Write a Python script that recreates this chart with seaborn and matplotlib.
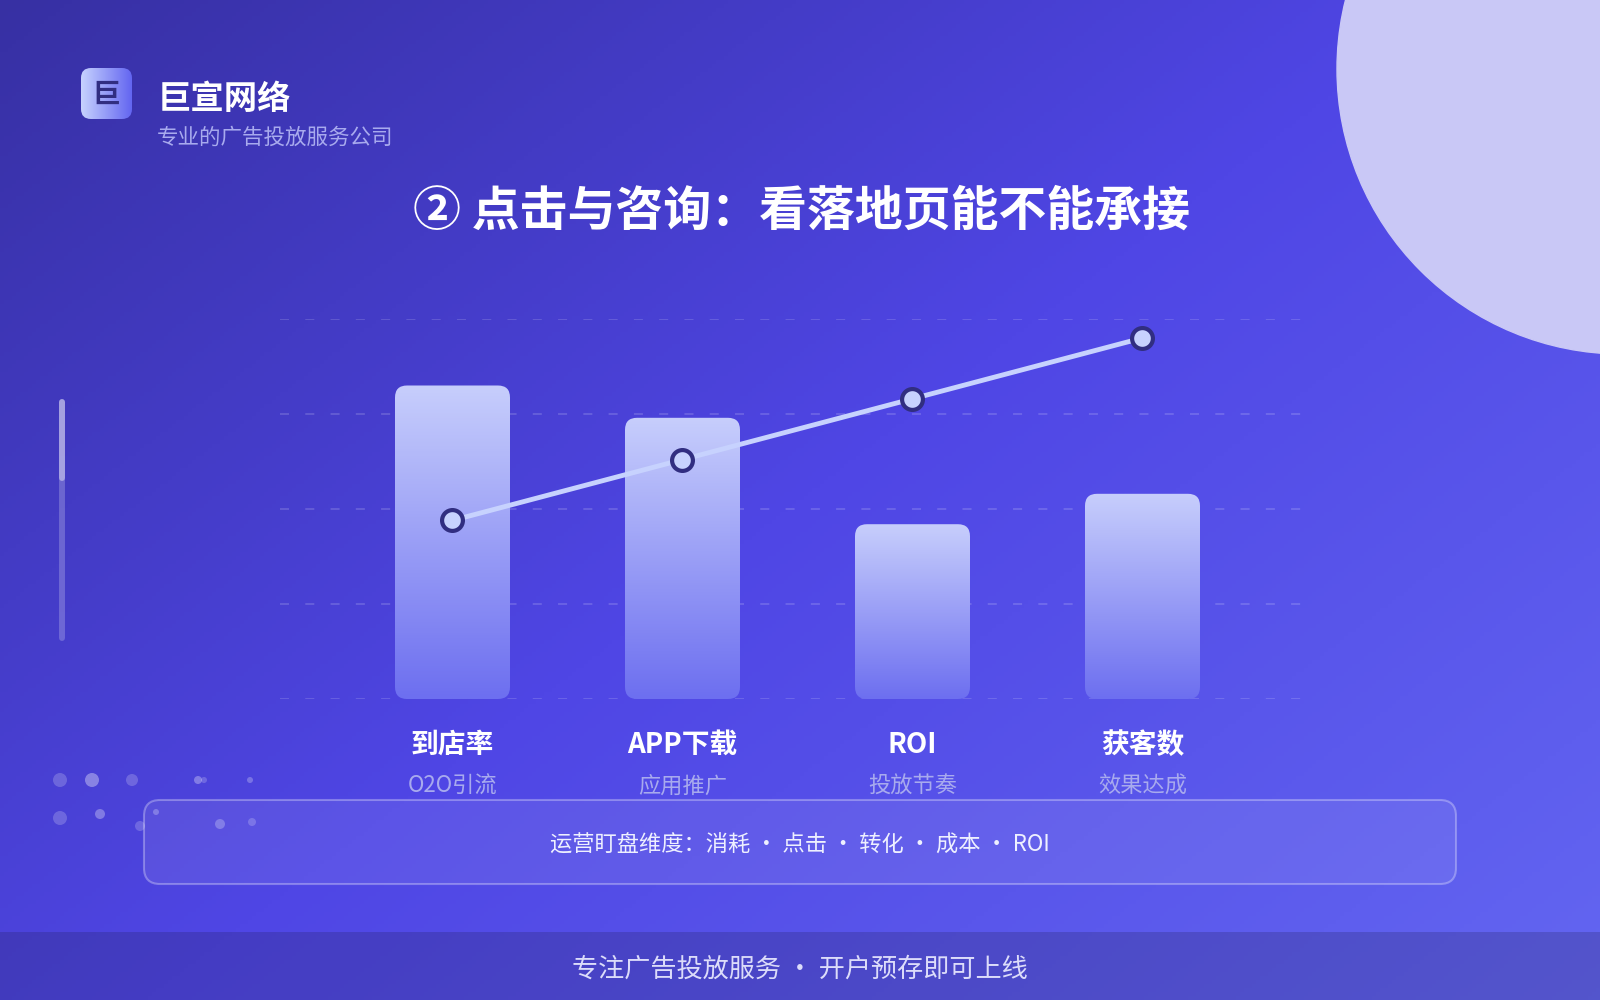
import numpy as np
import matplotlib
matplotlib.use("Agg")
import matplotlib.pyplot as plt
import seaborn as sns
from matplotlib.colors import LinearSegmentedColormap
from matplotlib.patches import FancyBboxPatch, Circle, Rectangle
from matplotlib.transforms import blended_transform_factory

# ---- data ----
categories = ["到店率", "APP下载", "ROI", "获客数"]
sub_labels = ["O2O引流", "应用推广", "投放节奏", "效果达成"]
bar_values = [82.5, 74, 46, 54]
line_values = [47, 63, 79, 95]
grid_ticks = [0, 25, 50, 75, 100]

brand = "巨宣网络"
brand_sub = "专业的广告投放服务公司"
title = "② 点击与咨询：看落地页能不能承接"
box_text = "运营盯盘维度：消耗 ・ 点击 ・ 转化 ・ 成本 ・ ROI"
footer_text = "专注广告投放服务 • 开户预存即可上线"

sns.set_style("white")
plt.rcParams["font.family"] = ["Noto Sans CJK SC", "DejaVu Sans"]

W, H = 1600, 1000
fig = plt.figure(figsize=(16, 10), dpi=100)

# ---- background layer in pixel coordinates ----
bg = fig.add_axes([0, 0, 1, 1], zorder=0)
bg.set_xlim(0, W)
bg.set_ylim(H, 0)
bg.axis("off")

bg_cmap = LinearSegmentedColormap.from_list("bg", ["#3730a3", "#4f46e5", "#6366f1"])
xx, yy = np.meshgrid(np.linspace(0, 1, 400), np.linspace(0, 1, 250))
bg.imshow((xx * 0.55 + yy * 0.45), cmap=bg_cmap, extent=[0, W, H, 0], aspect="auto", zorder=0)

bg.add_patch(Circle((1622, 69), 285, color="#c9c8f6", zorder=1))

# logo
logo = FancyBboxPatch((81, 68), 51, 51, boxstyle="round,pad=0,rounding_size=10",
                      facecolor="none", edgecolor="none", zorder=2)
bg.add_patch(logo)
logo_cmap = LinearSegmentedColormap.from_list("logo", ["#c7d2fe", "#6366f1"])
im = bg.imshow(np.linspace(0, 1, 100)[None, :], cmap=logo_cmap,
               extent=[81, 132, 119, 68], aspect="auto", zorder=2)
im.set_clip_path(logo)
bg.text(106, 95, "巨", fontsize=20, fontweight="bold", color="#312e81",
        ha="center", va="center", zorder=3)
bg.text(158, 99, brand, fontsize=24, fontweight="bold", color="white", va="center")
bg.text(157, 138, brand_sub, fontsize=15.5, color="#a8aaee", va="center")

bg.text(801, 211, title, fontsize=34.5, fontweight="bold", color="white",
        ha="center", va="center")

# side scroll bar
bg.plot([62, 62], [402, 638], color="white", alpha=0.22, lw=4.3, solid_capstyle="round")
bg.plot([62, 62], [402, 478], color="white", alpha=0.4, lw=4.3, solid_capstyle="round")

# decorative dots
dots = [(60, 780, 7, .2), (92, 780, 7, .35), (132, 780, 6, .2), (198, 780, 4, .3),
        (204, 780, 3, .2), (250, 780, 3, .25), (60, 818, 7, .2), (100, 814, 5, .3),
        (140, 826, 5, .2), (156, 812, 3, .25), (220, 824, 5, .25), (252, 822, 4, .2)]
for dx, dy, dr, da in dots:
    bg.add_patch(Circle((dx, dy), dr, color="white", alpha=da, lw=0, zorder=2))

# info box
bg.add_patch(FancyBboxPatch((144, 800), 1312, 84, boxstyle="round,pad=0,rounding_size=16",
                            facecolor=(1, 1, 1, 0.08), edgecolor=(1, 1, 1, 0.3), lw=1.5, zorder=3))
bg.text(800, 845, box_text, fontsize=16, color="#eef0ff", ha="center", va="center", zorder=4)

# footer band
bg.add_patch(Rectangle((0, 932), W, 68, facecolor="#1e1b4b", alpha=0.22, lw=0, zorder=3))
bg.text(800, 969, footer_text, fontsize=18.8, color="#dcdcfa", ha="center", va="center", zorder=4)

# ---- chart ----
ax = fig.add_axes([280 / W, 301 / H, 1035 / W, 380 / H], zorder=1)
ax.patch.set_alpha(0)

sns.barplot(x=categories, y=bar_values, width=0.5, color="#c7d2fe", ax=ax)
sns.lineplot(x=categories, y=line_values, ax=ax, color="#c7d2fe", lw=3.5, marker="o",
             markersize=15, markerfacecolor="#c7d2fe", markeredgecolor="#312e81",
             markeredgewidth=3, zorder=5, clip_on=False)

xlim, ylim = (-0.75, 3.75), (0, 100)
ax.set_xlim(*xlim)
ax.set_ylim(*ylim)

# rounded gradient bars
px_x = (xlim[1] - xlim[0]) / 1035
px_y = (ylim[1] - ylim[0]) / 380
asp = px_y / px_x
bar_cmap = LinearSegmentedColormap.from_list("bar", ["#6d6ff0", "#c7cefc"])
for p in list(ax.patches):
    x0, w, h = p.get_x(), p.get_width(), p.get_height()
    p.set_visible(False)
    rb = FancyBboxPatch((x0, 0), w, h, boxstyle=f"round,pad=0,rounding_size={12 * px_x}",
                        mutation_aspect=asp, facecolor="none", edgecolor="none")
    ax.add_patch(rb)
    g = ax.imshow(np.linspace(0, 1, 200)[:, None], cmap=bar_cmap, origin="lower",
                  extent=[x0, x0 + w, 0, h], aspect="auto", zorder=2)
    g.set_clip_path(rb)

ax.set_xlim(*xlim)
ax.set_ylim(*ylim)
ax.set_yticks(grid_ticks)
ax.grid(axis="y", color="white", alpha=0.17, lw=1.3, linestyle=(0, (5, 9)))
ax.set_axisbelow(True)
ax.tick_params(left=False, bottom=False, labelleft=False, labelbottom=False)
for s in ax.spines.values():
    s.set_visible(False)

trans = blended_transform_factory(ax.transData, ax.transAxes)
for i, (c, s) in enumerate(zip(categories, sub_labels)):
    ax.text(i, -0.121, c, transform=trans, fontsize=20, fontweight="bold",
            color="white", ha="center", va="center")
    ax.text(i, -0.229, s, transform=trans, fontsize=16, color="#a8aaee",
            ha="center", va="center")

fig.savefig("out.png", dpi=100)
